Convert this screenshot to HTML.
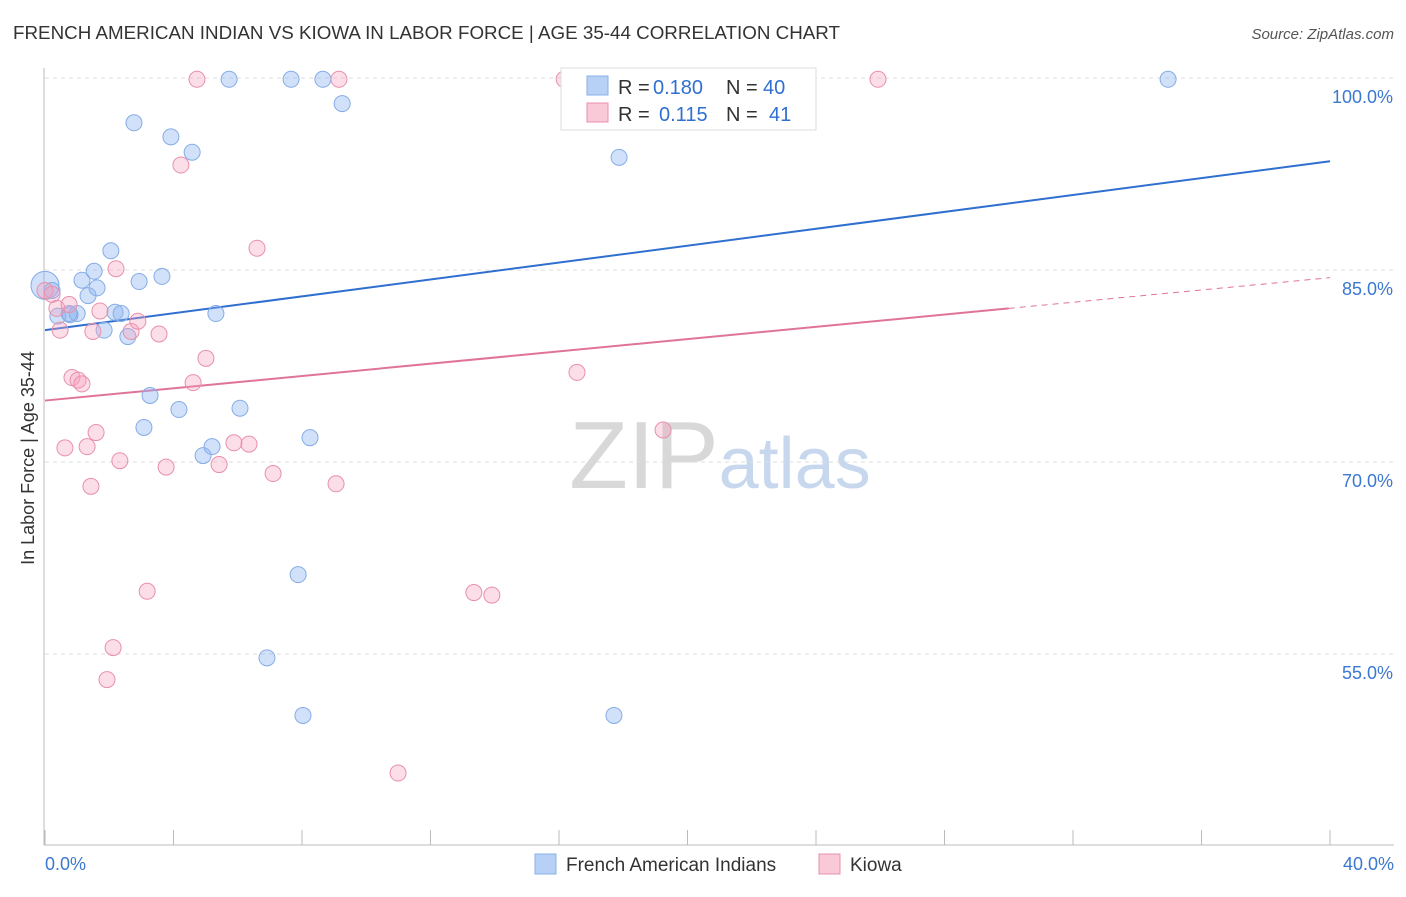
<!DOCTYPE html>
<html><head><meta charset="utf-8"><style>
body{margin:0;background:#fff;font-family:"Liberation Sans",sans-serif;}
svg text{font-family:"Liberation Sans",sans-serif;}
</style></head><body>
<svg id="chart" width="1406" height="892" xmlns="http://www.w3.org/2000/svg">
<text x="13" y="39" font-size="18" fill="#333" textLength="827" lengthAdjust="spacingAndGlyphs">FRENCH AMERICAN INDIAN VS KIOWA IN LABOR FORCE | AGE 35-44 CORRELATION CHART</text>
<text x="1394" y="39" font-size="15" fill="#555" text-anchor="end" font-style="italic">Source: ZipAtlas.com</text>
<text x="720" y="488" font-size="96" text-anchor="middle" font-family="Liberation Serif" fill="#d8d8d8"><tspan>ZIP</tspan><tspan fill="#c7d8ee" font-family="Liberation Sans" font-size="72">atlas</tspan></text>
<text transform="translate(34,458) rotate(-90)" font-size="18" fill="#333" text-anchor="middle">In Labor Force | Age 35-44</text>
<g id="grid"></g><g id="axes"></g><g id="lines"></g><g id="points"></g>
<g>
<rect x="561" y="68" width="255" height="62" fill="#fff" stroke="#ddd"/>
<rect x="587" y="76" width="21" height="19" fill="#b7d0f5" stroke="#8ab0e8"/>
<rect x="587" y="103" width="21" height="19" fill="#f9c9d8" stroke="#e890ab"/>
<text x="618" y="94" font-size="20" fill="#333">R =</text>
<text x="653" y="94" font-size="20" fill="#2f6fd0">0.180</text>
<text x="726" y="94" font-size="20" fill="#333">N =</text>
<text x="763" y="94" font-size="20" fill="#2f6fd0">40</text>
<text x="618" y="121" font-size="20" fill="#333">R =</text>
<text x="659" y="121" font-size="20" fill="#2f6fd0">0.115</text>
<text x="726" y="121" font-size="20" fill="#333">N =</text>
<text x="769" y="121" font-size="20" fill="#2f6fd0">41</text>
</g>
<g>
<rect x="535" y="854" width="21" height="20" fill="#b7d0f5" stroke="#8ab0e8"/>
<text x="566" y="871" font-size="19" fill="#333">French American Indians</text>
<rect x="819" y="854" width="21" height="20" fill="#f9c9d8" stroke="#e890ab"/>
<text x="850" y="871" font-size="19" fill="#333">Kiowa</text>
</g>
</svg>
<script>
const yTicks=[100,85,70,55];
const xTickLabels=["0.0%","40.0%"];
const blueX=[0,0.22,0.40,0.78,1.0,1.15,1.34,1.53,1.62,1.84,2.05,2.18,2.37,2.58,2.77,2.93,3.08,3.27,3.64,3.92,4.17,4.58,4.92,5.2,5.32,5.73,6.07,6.91,7.66,7.88,8.03,8.25,8.65,9.25,16.87,17.71,17.87,23.66,34.96,0.75];
const blueY=[83.8,83.4,81.4,81.5,81.6,84.2,83.0,84.9,83.6,80.3,86.5,81.7,81.6,79.8,96.5,84.1,72.7,75.2,84.5,95.4,74.1,94.2,70.5,71.2,81.6,99.9,74.2,54.7,99.9,61.2,50.2,71.9,99.9,98.0,99.9,50.2,93.8,97.3,99.9,81.6];
const pinkX=[0,0.22,0.37,0.47,0.62,0.75,0.84,1.03,1.15,1.31,1.43,1.49,1.59,1.71,1.93,2.12,2.21,2.33,2.68,2.89,3.18,3.55,3.77,4.23,4.61,4.73,5.01,5.42,5.88,6.35,6.6,7.1,9.06,9.15,10.99,13.35,13.91,16.16,16.56,19.24,25.93];
const pinkY=[83.4,83.1,82.0,80.3,71.1,82.3,76.6,76.4,76.1,71.2,68.1,80.2,72.3,81.8,53.0,55.5,85.1,70.1,80.2,81.0,59.9,80.0,69.6,93.2,76.2,99.9,78.1,69.8,71.5,71.4,86.7,69.1,68.3,99.9,45.7,59.8,59.6,99.9,77.0,72.5,99.9];
const blueLine=[80.3,93.5];
const pinkLine=[74.8,84.4];
const pinkSolidEnd=30.0;
const NS="http://www.w3.org/2000/svg";
const sx=v=>45+v*32.125, sy=v=>78+(100-v)*12.8;
function mk(t,a,p){const e=document.createElementNS(NS,t);for(const k in a)e.setAttribute(k,a[k]);p.appendChild(e);return e;}
const grid=document.getElementById('grid'),axes=document.getElementById('axes'),lines=document.getElementById('lines'),pts=document.getElementById('points');
yTicks.forEach(t=>{
 const l=mk('line',{x1:45,x2:1394,y1:sy(t),y2:sy(t),stroke:'#ddd','stroke-dasharray':'4,4'},grid);
 
 
 const tx=mk('text',{x:1393,y:sy(t)+25,'font-size':18,fill:'#3b78d0','text-anchor':'end'},grid);
 tx.textContent=t.toFixed(1)+'%';
 
 
});
mk('line',{x1:44,x2:44,y1:68,y2:845,stroke:'#bbb'},axes);
mk('line',{x1:44,x2:1394,y1:845,y2:845,stroke:'#bbb'},axes);
for(let i=0;i<=10;i++){const t=mk('line',{x1:sx(i*4),x2:sx(i*4),y1:830,y2:845,stroke:'#bbb'},axes);
 
 }
[[0,'start',45],[40,'end',1394]].forEach((d,i)=>{const t=mk('text',{x:d[2],y:870,'font-size':18,fill:'#3b78d0','text-anchor':d[1]},axes);t.textContent=xTickLabels[i];
 
 });
const bl=mk('line',{x1:sx(0),y1:sy(blueLine[0]),x2:sx(40),y2:sy(blueLine[1]),stroke:'#2f6fd0','stroke-width':2},lines);


const pAt=x=>pinkLine[0]+(pinkLine[1]-pinkLine[0])*x/40;
const pl=mk('line',{x1:sx(0),y1:sy(pinkLine[0]),x2:sx(pinkSolidEnd),y2:sy(pAt(pinkSolidEnd)),stroke:'#e07399','stroke-width':2},lines);


const pd=mk('line',{x1:sx(pinkSolidEnd),y1:sy(pAt(pinkSolidEnd)),x2:sx(40),y2:sy(pinkLine[1]),stroke:'#e07399','stroke-width':1,'stroke-dasharray':'6,5'},lines);


blueX.forEach((x,i)=>{const c=mk('circle',{cx:sx(x),cy:sy(blueY[i]),r:i===0?14:8,fill:'rgba(140,180,240,0.4)',stroke:'#86ace6','stroke-width':1},pts);
 
 });
pinkX.forEach((x,i)=>{const c=mk('circle',{cx:sx(x),cy:sy(pinkY[i]),r:8,fill:'rgba(245,160,190,0.35)',stroke:'#e890ab','stroke-width':1},pts);
 
 });
</script>
</body></html>
